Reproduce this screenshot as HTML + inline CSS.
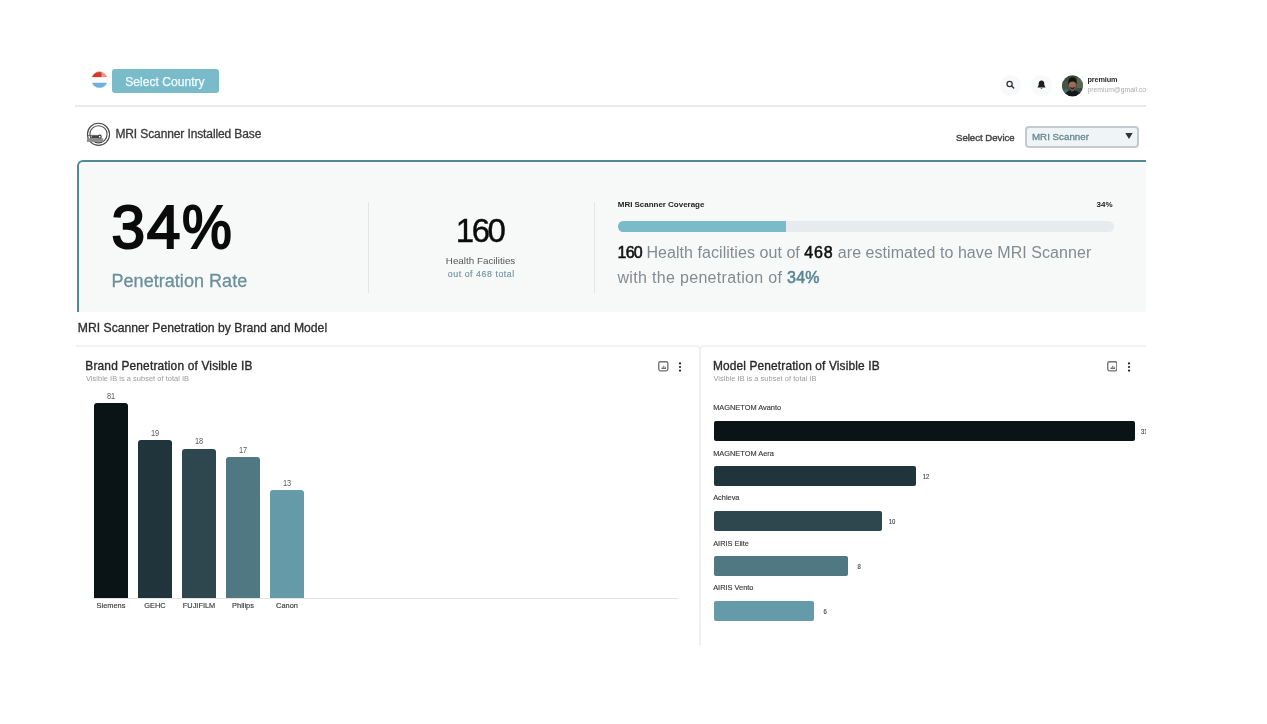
<!DOCTYPE html>
<html>
<head>
<meta charset="utf-8">
<title>MRI Scanner Installed Base</title>
<style>
*{box-sizing:border-box;margin:0;padding:0}
html,body{width:1267px;height:724px;background:#fff;overflow:hidden}
body{font-family:"Liberation Sans",sans-serif;color:#222;position:relative}
#shot{will-change:transform;position:absolute;left:75px;top:60px;width:1071px;height:585px;overflow:hidden;background:#fff}
.abs{position:absolute;white-space:nowrap;line-height:1}
/* coordinates inside #shot are page coords minus (75,60) */
.btn{left:37px;top:9px;width:107px;height:24px;border-radius:3px;background:#79bbc9;color:#f0fcfe;font-size:12.1px;text-align:left;padding-left:13.3px;line-height:26.6px;letter-spacing:.0px;-webkit-text-stroke:.25px #f0fcfe}
.hr{left:0;top:45px;width:1071px;height:1.5px;background:#e9eaeb}
.icobg{width:21px;height:21px;border-radius:50%;background:#f8f9fa}
.sel{left:950px;top:66px;width:114px;height:21.5px;border:2px solid #c0cacf;border-radius:4px;background:#eff4f6}
.card{left:2px;top:100px;width:1080px;height:152px;background:#f7f9f9;border-top:2px solid #528897;border-left:2px solid #528897;border-top-left-radius:6px}
.vline{width:1px;background:#e3e6e7;top:142px;height:91px}
.track{left:543px;top:161.3px;width:496px;height:10.4px;border-radius:5.2px;background:#e8ebed;overflow:hidden}
.fill{width:168px;height:11px;background:#79bbc9}
.ccard{border-top:2px solid #f1f2f4}
.vb{width:34px;border-radius:3px 3px 0 0}
.hb{left:638.5px;height:20px;border-radius:2px}
.t75{font-size:7.4px;color:#3a3a3a;-webkit-text-stroke:.15px #3a3a3a}
.val{font-size:8.8px;color:#555;transform:scaleX(.84)}
.hv{transform:scaleX(.8);color:#444}
.sub{font-size:7.4px;color:#9a9a9a;letter-spacing:.05px}
</style>
</head>
<body>
<div id="shot">

<!-- top bar -->
<svg class="abs" style="left:16px;top:11px" width="18" height="19" viewBox="0 0 18 19">
  <defs><clipPath id="fc"><circle cx="8.5" cy="8.85" r="8.25"/></clipPath>
  <linearGradient id="fg" x1="0" y1="0" x2="1" y2="0"><stop offset="0" stop-color="#d5341f"/><stop offset=".55" stop-color="#d93a2a"/><stop offset=".62" stop-color="#ee9a8c"/><stop offset="1" stop-color="#e88878"/></linearGradient></defs>
  <g clip-path="url(#fc)">
    <rect x="0" y="0" width="18" height="6.3" fill="url(#fg)"/>
    <rect x="0" y="6.3" width="18" height="5.5" fill="#fbfbfc"/>
    <rect x="0" y="11.8" width="18" height="7" fill="#6fb0de"/>
  </g>
  <circle cx="8.5" cy="8.85" r="8.25" fill="none" stroke="#eceaf0" stroke-width=".5"/>
</svg>
<div class="abs btn">Select Country</div>

<div class="abs icobg" style="left:925px;top:15px"></div>
<svg class="abs" style="left:930px;top:19px" width="12" height="12" viewBox="0 0 12 12"><circle cx="4.6" cy="4.9" r="2.6" fill="none" stroke="#333" stroke-width="1.25"/><path d="M6.6 6.9 L8.7 9" stroke="#333" stroke-width="1.4" stroke-linecap="round"/></svg>
<div class="abs icobg" style="left:955.5px;top:15px"></div>
<svg class="abs" style="left:961.5px;top:20px" width="9" height="10" viewBox="0 0 9 10"><path d="M4.5 0.6 C2.6 0.6 1.7 2.1 1.7 3.8 C1.7 5.6 1.2 6.3 0.6 7 L0.6 7.6 L8.4 7.6 L8.4 7 C7.8 6.3 7.3 5.6 7.3 3.8 C7.3 2.1 6.4 0.6 4.5 0.6 Z" fill="#1d1d1d"/><path d="M3.5 8.2 A1.05 1.05 0 0 0 5.5 8.2 Z" fill="#1d1d1d"/></svg>

<!-- avatar -->
<svg class="abs" style="left:987px;top:15px" width="22" height="22" viewBox="0 0 22 22">
  <defs><clipPath id="av"><circle cx="10.5" cy="10.8" r="10.5"/></clipPath>
  <radialGradient id="ag" cx=".5" cy=".45" r=".6"><stop offset="0" stop-color="#5b6453"/><stop offset="1" stop-color="#2f382f"/></radialGradient></defs>
  <g clip-path="url(#av)">
    <rect width="22" height="22" fill="url(#ag)"/>
    <rect x="15" y="3" width="7" height="10" fill="#5f6e58" opacity=".8"/>
    <rect x="0" y="6" width="5" height="8" fill="#4a5548" opacity=".8"/>
    <path d="M0 15 L6 14 L6 22 L0 22Z" fill="#3f7f86" opacity=".75"/>
    <path d="M2.5 22 C3 16.5 7 15.2 10.3 15.2 C13.8 15.2 18 16.5 18.8 22 Z" fill="#11181b"/>
    <ellipse cx="10.4" cy="10.4" rx="3.3" ry="4.1" fill="#9a6b55"/>
    <path d="M8.8 14 L12 14 L11.8 16.2 L9 16.2Z" fill="#7d5544"/>
    <path d="M6.4 9.8 C5.6 4.6 7.8 2.2 10.6 2.2 C13.6 2.2 15.4 4.6 14.4 9.6 C14 7.4 13 6.2 10.4 6.4 C8 6.4 6.9 7.6 6.4 9.8 Z" fill="#17120f"/>
    <path d="M7.5 11.6 C8 15.2 12.8 15.2 13.3 11.6 C12.6 13.2 8.2 13.2 7.5 11.6Z" fill="#2e211b"/>
  </g>
</svg>
<div class="abs" style="left:1012.4px;top:16.3px;font-size:7.3px;font-weight:bold;color:#2b2b2b;letter-spacing:-.1px">premium</div>
<div class="abs" style="left:1012.4px;top:27.2px;font-size:6.8px;color:#adadad">premium@gmail.com</div>

<div class="abs hr"></div>

<!-- page heading row -->
<svg class="abs" style="left:10px;top:61px" width="28" height="28" viewBox="0 0 28 28" fill="none" stroke="#4a4a4a" stroke-width="1.1">
 <g transform="translate(0.5,0.3)">
  <circle cx="13" cy="13" r="11.05"/>
  <circle cx="13" cy="13" r="8.6"/>
  <rect x="1.4" y="17" width="16.3" height="3.6" fill="#8c8c8c" stroke="none"/>
  <path d="M1.4 14.1 H12.4" stroke="#555" stroke-width=".9"/>
  <rect x="6" y="14.5" width="6.6" height="2.5" fill="#444" stroke="none"/>
  <circle cx="14.2" cy="15.4" r="1.5" fill="#fff" stroke="#3a3a3a" stroke-width="1.2"/>
 </g>
</svg>
<div class="abs" style="left:40.4px;top:67.8px;font-size:12px;color:#3a3a3a;letter-spacing:-.11px;-webkit-text-stroke:.3px #3a3a3a">MRI Scanner Installed Base</div>

<div class="abs" style="left:881px;top:72.6px;font-size:9.6px;color:#444;-webkit-text-stroke:.4px #444">Select Device</div>
<div class="abs sel"></div>
<div class="abs" style="left:957px;top:72.3px;font-size:9.75px;color:#668791;-webkit-text-stroke:.3px #668791">MRI Scanner</div>
<svg class="abs" style="left:1050px;top:72.5px" width="8" height="6" viewBox="0 0 8 6"><path d="M0.3 0 H7.7 L4 6 Z" fill="#333"/></svg>

<!-- summary card -->
<div class="abs card"></div>
<div class="abs" style="left:36.6px;top:136.6px;font-size:60.5px;color:#0b0b0b;letter-spacing:1.4px;-webkit-text-stroke:2px #0b0b0b">34<span style="display:inline-block;transform:scaleX(.925);transform-origin:0 50%">%</span></div>
<div class="abs" style="left:36.5px;top:211.9px;font-size:18px;color:#6b909c;letter-spacing:.04px;-webkit-text-stroke:.3px #6b909c">Penetration Rate</div>
<div class="abs vline" style="left:293px"></div>
<div class="abs" style="left:380.7px;top:154px;font-size:33px;color:#0b0b0b;letter-spacing:-2.4px;-webkit-text-stroke:.4px #0b0b0b">160</div>
<div class="abs" style="left:370.8px;top:195.7px;font-size:9.8px;color:#555;letter-spacing:.02px">Health Facilities</div>
<div class="abs" style="left:372.8px;top:210px;font-size:8.8px;color:#7294a0;letter-spacing:.55px;-webkit-text-stroke:.15px #7294a0">out of 468 total</div>
<div class="abs vline" style="left:519px"></div>

<div class="abs" style="left:542.8px;top:140.6px;font-size:8px;font-weight:bold;color:#222;letter-spacing:-.03px">MRI Scanner Coverage</div>
<div class="abs" style="left:1021.5px;top:140.6px;font-size:8px;font-weight:bold;color:#222">34%</div>
<div class="abs track"><div class="fill"></div></div>
<div class="abs" style="left:542.5px;top:184.6px;font-size:16px;color:#838b8f;letter-spacing:.055px"><span style="color:#111;letter-spacing:-.75px;-webkit-text-stroke:.55px #111">160</span> Health facilities out of <span style="color:#111;letter-spacing:.75px;-webkit-text-stroke:.55px #111">468</span> are estimated to have MRI Scanner</div>
<div class="abs" style="left:542.5px;top:210.2px;font-size:16px;color:#838b8f;letter-spacing:.32px">with the penetration of <span style="color:#5a8794;letter-spacing:.15px;-webkit-text-stroke:.55px #5a8794">34%</span></div>

<!-- section title -->
<div class="abs" style="left:2.8px;top:261.6px;font-size:12.2px;color:#2e2e2e;-webkit-text-stroke:.3px #2e2e2e">MRI Scanner Penetration by Brand and Model</div>

<!-- chart card 1 -->
<div class="abs ccard" style="left:0.5px;top:285px;width:625px;height:301px;border-right:2px solid #eceef1;border-top-right-radius:5px;border-top-left-radius:0"></div>
<div class="abs" style="left:10.3px;top:300.7px;font-size:11.9px;color:#2a2a2a;letter-spacing:.18px;-webkit-text-stroke:.35px #2a2a2a">Brand Penetration of Visible IB</div>
<div class="abs sub" style="left:11px;top:314.8px">Visible IB is a subset of total IB</div>
<svg class="abs" style="left:583px;top:301.4px" width="10.6" height="10.6" viewBox="0 0 10 10"><rect x=".7" y=".7" width="8.6" height="8.6" rx="1.7" fill="none" stroke="#707070" stroke-width="1.25"/><path d="M4 6.9 V5.9 M5.4 6.9 V4.5 M6.8 6.9 V5.4 M3.3 7.1 H7.6" stroke="#666" stroke-width=".9" fill="none"/></svg>
<svg class="abs" style="left:603px;top:301.5px" width="4" height="10" viewBox="0 0 4 10"><circle cx="2" cy="1.4" r="1.1" fill="#222"/><circle cx="2" cy="5" r="1.1" fill="#222"/><circle cx="2" cy="8.6" r="1.1" fill="#222"/></svg>

<div class="abs vb" style="left:19px;top:342.8px;height:195.2px;background:#0a1416"></div>
<div class="abs vb" style="left:63px;top:379.8px;height:158.2px;background:#20343b"></div>
<div class="abs vb" style="left:107px;top:388.7px;height:149.3px;background:#2e464e"></div>
<div class="abs vb" style="left:151px;top:396.8px;height:141.2px;background:#4f7883"></div>
<div class="abs vb" style="left:195px;top:429.8px;height:108.2px;background:#659aa8"></div>
<div class="abs" style="left:19px;top:538px;width:584px;height:1.2px;background:#e2e3e4"></div>

<div class="abs val" style="left:19px;width:34px;text-align:center;top:332px">81</div>
<div class="abs val" style="left:63px;width:34px;text-align:center;top:369px">19</div>
<div class="abs val" style="left:107px;width:34px;text-align:center;top:377.4px">18</div>
<div class="abs val" style="left:151px;width:34px;text-align:center;top:386px">17</div>
<div class="abs val" style="left:195px;width:34px;text-align:center;top:419px">13</div>

<div class="abs t75" style="left:9px;width:54px;text-align:center;top:541.8px">Siemens</div>
<div class="abs t75" style="left:53px;width:54px;text-align:center;top:541.8px">GEHC</div>
<div class="abs t75" style="left:97px;width:54px;text-align:center;top:541.8px">FUJIFILM</div>
<div class="abs t75" style="left:141px;width:54px;text-align:center;top:541.8px">Philips</div>
<div class="abs t75" style="left:185px;width:54px;text-align:center;top:541.8px">Canon</div>

<!-- chart card 2 -->
<div class="abs ccard" style="left:623.9px;top:285px;width:460px;height:299.3px;border-left:2px solid #eceef1;border-top-left-radius:5px"></div>
<div class="abs" style="left:638px;top:300.7px;font-size:11.9px;color:#2a2a2a;letter-spacing:.14px;-webkit-text-stroke:.35px #2a2a2a">Model Penetration of Visible IB</div>
<div class="abs sub" style="left:638.5px;top:314.8px">Visible IB is a subset of total IB</div>
<svg class="abs" style="left:1031.8px;top:301.4px" width="10.6" height="10.6" viewBox="0 0 10 10"><rect x=".7" y=".7" width="8.6" height="8.6" rx="1.7" fill="none" stroke="#707070" stroke-width="1.25"/><path d="M4 6.9 V5.9 M5.4 6.9 V4.5 M6.8 6.9 V5.4 M3.3 7.1 H7.6" stroke="#666" stroke-width=".9" fill="none"/></svg>
<svg class="abs" style="left:1052px;top:301.5px" width="4" height="10" viewBox="0 0 4 10"><circle cx="2" cy="1.4" r="1.1" fill="#222"/><circle cx="2" cy="5" r="1.1" fill="#222"/><circle cx="2" cy="8.6" r="1.1" fill="#222"/></svg>

<div class="abs t75" style="left:638.2px;top:343.6px">MAGNETOM Avanto</div>
<div class="abs hb" style="top:361px;width:421.5px;background:#0a1416"></div>
<div class="abs t75 hv" style="left:1066.2px;top:368.3px;transform-origin:0 50%">31</div>

<div class="abs t75" style="left:638.2px;top:389.9px">MAGNETOM Aera</div>
<div class="abs hb" style="top:406.3px;width:202px;background:#20343b"></div>
<div class="abs t75 hv" style="left:846.5px;top:412.8px">12</div>

<div class="abs t75" style="left:638.2px;top:434.3px">Achieva</div>
<div class="abs hb" style="top:451.2px;width:168px;background:#2e464e"></div>
<div class="abs t75 hv" style="left:812.5px;top:458px">10</div>

<div class="abs t75" style="left:638.2px;top:479.5px">AIRIS Elite</div>
<div class="abs hb" style="top:496.3px;width:134.5px;background:#4f7883"></div>
<div class="abs t75 hv" style="left:781.5px;top:503px">8</div>

<div class="abs t75" style="left:638.2px;top:524.3px">AIRIS Vento</div>
<div class="abs hb" style="top:541px;width:100.7px;background:#659aa8"></div>
<div class="abs t75 hv" style="left:748.3px;top:548.2px">6</div>

</div>
</body>
</html>
